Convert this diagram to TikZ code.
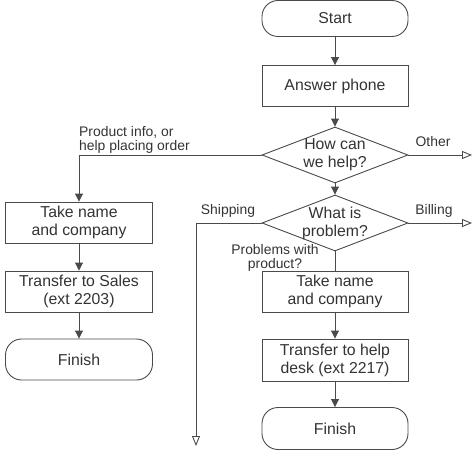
\documentclass[tikz,border=0pt]{standalone}
\usepackage{fontspec}
\setmainfont{Liberation Sans}
\usetikzlibrary{arrows.meta,shapes.geometric}
\definecolor{linec}{HTML}{4A4A4A}
\definecolor{txtc}{HTML}{333333}
\begin{document}
\begin{tikzpicture}[x=1pt,y=-1pt,
  every node/.style={text=txtc},
  mainfont/.style={font=\fontsize{15.8}{18}\selectfont},
  smallfont/.style={font=\fontsize{13.9}{13.5}\selectfont},
  box/.style={draw=linec,line width=0.9pt,rectangle,minimum width=146pt,minimum height=41pt,inner sep=0pt,align=center,mainfont},
  term/.style={box,rounded corners=16pt},
  dia/.style={draw=linec,line width=0.9pt,diamond,inner sep=0pt,minimum width=146pt,minimum height=56pt},
  diatext/.style={align=center,mainfont,inner sep=0pt},
  lbl/.style={smallfont,inner sep=0pt},
  conn/.style={draw=linec,line width=0.9pt},
  arr/.style={conn,-{Triangle[width=8pt,length=8pt]}},
  oarr/.style={conn,-{Triangle[open,width=8pt,length=10pt]}}
]
\useasboundingbox (0,0) rectangle (474,452);
% right column
\node[term,minimum height=36pt] (start) at (335,18.5) {Start};
\node[box] (answer) at (335,86) {Answer phone};
\node[dia] (d1) at (335,155) {};
\node[diatext] (d1t) at (d1) {How can\\we help?};
\node[dia] (d2) at (335,223) {};
\node[diatext] (d2t) at (d2) {What is\\problem?};
\node[box] (taker) at (335,291.5) {Take name\\and company};
\node[box,minimum height=42pt] (help) at (335,360) {Transfer to help\\desk (ext 2217)};
\node[term,minimum height=42pt] (finr) at (335,428.5) {Finish};
% left column
\node[box,minimum width=147pt] (takel) at (79,222.5) {Take name\\and company};
\node[box,minimum width=147pt] (sales) at (79,291.5) {Transfer to Sales\\(ext 2203)};
\node[term,minimum width=147pt] (finl) at (79,359.5) {Finish};
% free ends
\coordinate (otherend) at (472,155);
\coordinate (billend) at (472,223);
\coordinate (shipend) at (196,446);
% connectors
\draw[arr] (start) -- (answer);
\draw[arr] (answer) -- (d1);
\draw[arr] (d1) -- (d2);
\draw[arr] (d1.west) -| (takel.north);
\draw[oarr] (d1.east) -- (otherend);
\draw[oarr] (d2.east) -- (billend);
\draw[oarr] (d2.west) -| (shipend);
\draw[conn] (d2.south) -- (taker.north);
\draw[arr] (taker) -- (help);
\draw[arr] (help) -- (finr);
\draw[arr] (takel) -- (sales);
\draw[arr] (sales) -- (finl);
% labels
\node[lbl,align=left,anchor=west] (lprod) at (79,140) {Product info, or\\help placing order};
\node[lbl] (lother) at (433,142) {Other};
\node[lbl] (lbill) at (434,211) {Billing};
\node[lbl] (lship) at (228,211) {Shipping};
\node[lbl,align=center] (lprob) at (275,258) {Problems with\\product?};
\end{tikzpicture}
\end{document}
